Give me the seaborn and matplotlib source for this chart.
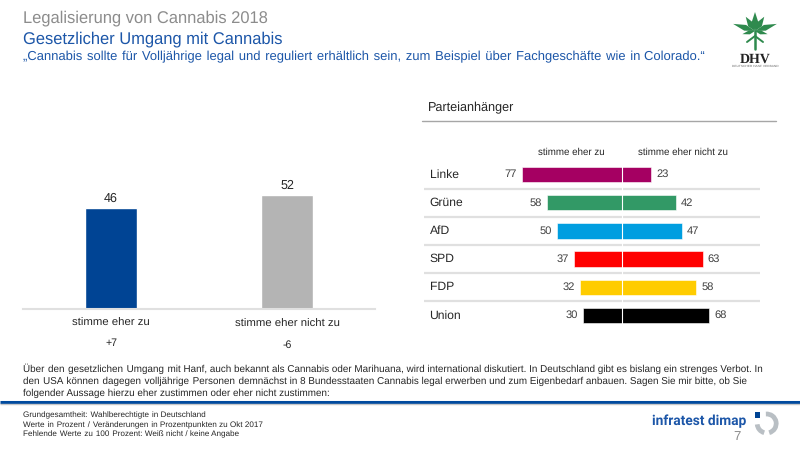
import numpy as np
import pandas as pd
import matplotlib
matplotlib.use("Agg")
import matplotlib.pyplot as plt
from matplotlib.patches import Polygon, Rectangle, Arc
import seaborn as sns

# total result
answers = ["stimme eher zu", "stimme eher nicht zu"]
answer_values = [46, 52]
answer_changes = ["+7", "-6"]
answer_colors = ["#004494", "#b4b4b4"]

# party supporters
parties = ["Linke", "Grüne", "AfD", "SPD", "FDP", "Union"]
agree = [77, 58, 50, 37, 32, 30]
disagree = [23, 42, 47, 63, 58, 68]
party_colors = ["#a50062", "#329966", "#009ee0", "#ff0000", "#ffcc00", "#000000"]

BLUE = "#1c56a8"
TEXT = "#262626"
W, H = 800, 450

sns.set_theme(style="white")
plt.rcParams["font.family"] = ["Liberation Sans", "DejaVu Sans"]
plt.rcParams["text.hinting"] = "none"


def px_axes(fig, left, top, right, bottom):
    """Axes placed by pixel box, y counted from the top of the picture"""
    return fig.add_axes([left / W, 1 - bottom / H, (right - left) / W, (bottom - top) / H])


def justified(fig, ov, x, right, y, line, fontsize, color):
    """One text per line, word gaps widened with hair spaces so it reaches right"""
    renderer = fig.canvas.get_renderer()

    def width(s):
        t = ov.text(0, 0, s, fontsize=fontsize)
        w = t.get_window_extent(renderer).width
        t.remove()
        return w

    words = line.split(" ")
    hair = width("a\u200aa") - width("aa")
    extra = max(0, int(round((right - x - width(line)) / hair)))
    base, rest = divmod(extra, len(words) - 1)
    out = words[0]
    for i, word in enumerate(words[1:]):
        out += " " + "\u200a" * (base + (1 if i < rest else 0)) + word
    ov.text(x, y, out, va="center", fontsize=fontsize, color=color)


def plot_total(fig):
    ax = px_axes(fig, 23, 140, 375, 309)
    df = pd.DataFrame({"answer": answers, "value": answer_values})
    sns.barplot(data=df, x="answer", y="value", hue="answer", palette=answer_colors,
                width=0.295, saturation=1, legend=False, ax=ax)
    ax.set_ylim(0, 169 / 2.2)
    ax.set_yticks([])
    ax.set_xlabel("")
    ax.set_ylabel("")
    ax.set_xticks([])
    sns.despine(ax=ax, left=True)
    ax.spines["bottom"].set_color("#e0e0e0")
    ax.spines["bottom"].set_linewidth(1.5)
    for i, v in enumerate(answer_values):
        ax.annotate(str(v), (i, v), xytext=(0, 2.5), textcoords="offset points",
                    ha="center", va="bottom", fontsize=9, color=TEXT)
    ax.patch.set_alpha(0)


def plot_parties(fig):
    ax = px_axes(fig, 423.5, 160.4, 760, 329.6)
    df = pd.DataFrame({"party": parties, "agree": agree, "disagree": disagree})
    df["agree_neg"] = -df["agree"]
    for col in ["agree_neg", "disagree"]:
        sns.barplot(data=df, y="party", x=col, hue="party", palette=party_colors,
                    width=0.54, saturation=1, legend=False, ax=ax,
                    edgecolor="white", linewidth=0.4)
    ax.set_xlim(-198 / 1.29, 138.5 / 1.29)
    ax.set_xticks([])
    ax.set_yticks([])
    ax.set_xlabel("")
    ax.set_ylabel("")
    sns.despine(ax=ax, left=True, bottom=True)
    for i in range(len(parties) - 1):
        ax.axhline(i + 0.5, color="#e0e0e0", lw=1.6, zorder=0)
    ax.axvline(0, color="white", lw=0.8, zorder=5)
    for i, party in enumerate(parties):
        ax.annotate(party, (0, i), xycoords=("axes fraction", "data"), xytext=(6, 0),
                    textcoords="offset pixels", va="center", fontsize=8.7, color=TEXT)
        ax.annotate(str(agree[i]), (-agree[i], i), xytext=(-5, 0), textcoords="offset pixels",
                    ha="right", va="center", fontsize=8, color="#404040")
        ax.annotate(str(disagree[i]), (disagree[i], i), xytext=(5, 0), textcoords="offset pixels",
                    ha="left", va="center", fontsize=8, color="#404040")
    ax.patch.set_alpha(0)


def draw_dhv_logo(ov):
    green = "#2f8a4e"
    cx, cy = 755, 31
    for angle, length, width in [(0, 19, 3.4), (33, 17, 3.2), (-33, 17, 3.2),
                                 (72, 23, 3), (-72, 23, 3), (104, 13, 2),
                                 (-104, 13, 2)]:
        a = np.radians(angle)
        tip = (cx + length * np.sin(a), cy - length * np.cos(a))
        mid = (cx + 0.45 * length * np.sin(a), cy - 0.45 * length * np.cos(a))
        n = (width * np.cos(a), width * np.sin(a))
        ov.add_patch(Polygon([(cx, cy), (mid[0] + n[0], mid[1] + n[1]), tip,
                              (mid[0] - n[0], mid[1] - n[1])], color=green, lw=0))
    ov.plot([cx, cx], [cy, 49], color=green, lw=1.8)
    ov.plot([747, cx, 763], [42, 36, 42], color=green, lw=1.4)
    ov.text(755.5, 59, "DHV", family="Liberation Serif", fontweight="bold", fontsize=10,
            color="#222222", ha="center", va="center")
    ov.text(755.5, 66.3, "DEUTSCHER HANF VERBAND", fontsize=2.3, color="#666666",
            ha="center", va="center")


def draw_infratest_logo(ov):
    ov.text(746.7, 421.5, "infratest dimap", family="Roboto", fontsize=9.9, color="#1c56a8",
            ha="right", va="center", fontweight="bold")
    ov.add_patch(Rectangle((754.5, 412), 5.5, 5.5, color="#004494", lw=0))
    for start, end in [(-95, 75), (105, 175)]:
        ov.add_patch(Arc((766.7, 423.5), 19, 19, theta1=start, theta2=end, color="#b9bfc4", lw=3.4))
    ov.text(736.5, 437, "7", fontsize=9.5, color="#8c8c8c", ha="center", va="center")


def main():
    fig = plt.figure(figsize=(8, 4.5), dpi=100, facecolor="white")

    plot_total(fig)
    plot_parties(fig)

    # everything around the two charts is placed in picture pixels
    ov = fig.add_axes([0, 0, 1, 1], zorder=-1)
    ov.set_xlim(0, W)
    ov.set_ylim(H, 0)
    ov.axis("off")

    ov.text(23, 18, "Legalisierung von Cannabis 2018", fontsize=11.9, color="#8c8c8c", va="center")
    ov.text(23, 39, "Gesetzlicher Umgang mit Cannabis", fontsize=11.9, color=BLUE, va="center")
    justified(fig, ov, 23, 705, 57.3, "„Cannabis sollte für Volljährige legal und reguliert erhältlich sein, "
              "zum Beispiel über Fachgeschäfte wie in Colorado.“", 9.4, BLUE)

    ov.text(428, 108, "Parteianhänger", fontsize=9.1, color=TEXT, va="center")
    ov.plot([422, 776], [120.5, 120.5], color="#a6a6a6", lw=1)
    ov.text(571.5, 152, "stimme eher zu", fontsize=7, color=TEXT, ha="center", va="center")
    ov.text(683, 152, "stimme eher nicht zu", fontsize=7, color=TEXT, ha="center", va="center")

    for x, answer, y, change, y2 in zip([111, 287], answers, [323, 324], answer_changes, [343, 345]):
        ov.text(x, y, answer, fontsize=8.2, color=TEXT, ha="center", va="center")
        ov.text(x, y2, change, fontsize=7.6, color=TEXT, ha="center", va="center")

    body = ["Über den gesetzlichen Umgang mit Hanf, auch bekannt als Cannabis oder Marihuana, wird international "
            "diskutiert. In Deutschland gibt es bislang ein strenges Verbot. In",
            "den USA können dagegen volljährige Personen demnächst in 8 Bundesstaaten Cannabis legal erwerben und "
            "zum Eigenbedarf anbauen. Sagen Sie mir bitte, ob Sie",
            "folgender Aussage hierzu eher zustimmen oder eher nicht zustimmen:"]
    for y, right, line in zip([369, 381.5, 393.5], [763, 747, 328], body):
        justified(fig, ov, 23, right, y, line, 7.1, TEXT)

    ov.plot([0, W], [401.7, 401.7], color="#004a9e", lw=2.2, solid_capstyle="butt")
    ov.plot([0, W], [404.3, 404.3], color="#c8c8c8", lw=1, solid_capstyle="butt")

    notes = ["Grundgesamtheit: Wahlberechtigte in Deutschland",
             "Werte in Prozent / Veränderungen in Prozentpunkten zu Okt 2017",
             "Fehlende Werte zu 100 Prozent: Weiß nicht / keine Angabe"]
    for y, right, line in zip([415.5, 425, 434.5], [206, 263, 239], notes):
        justified(fig, ov, 23, right, y, line, 5.85, TEXT)

    draw_dhv_logo(ov)
    draw_infratest_logo(ov)

    fig.savefig("out.png", dpi=100)
    plt.close(fig)


if __name__ == "__main__":
    main()
